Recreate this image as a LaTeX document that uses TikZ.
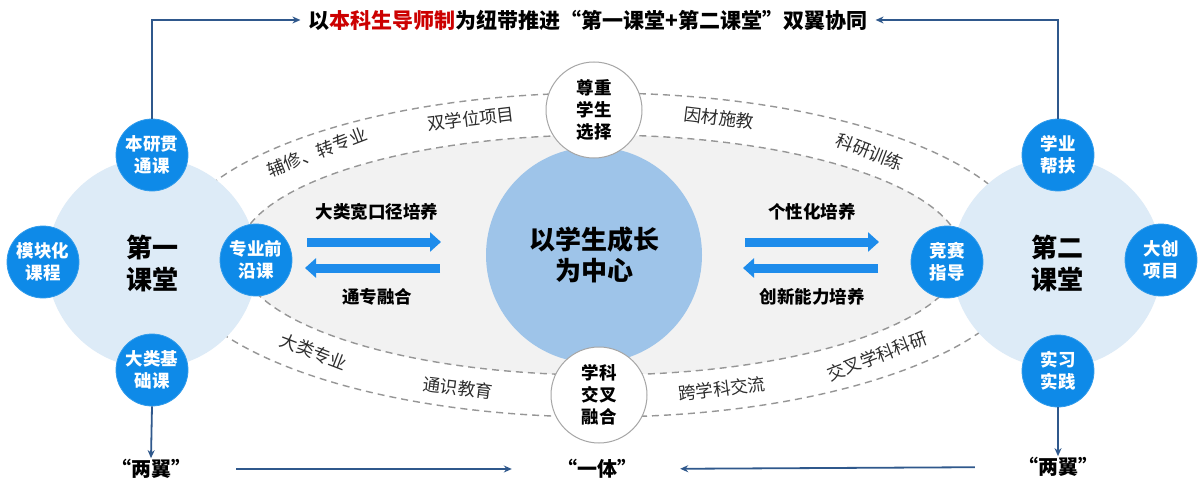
\documentclass[tikz,border=0pt]{standalone}
\usepackage{fontspec}
\setmainfont{Noto Sans CJK SC}
\usetikzlibrary{arrows.meta}
\definecolor{bigblue}{RGB}{221,235,247}
\definecolor{hubblue}{RGB}{158,196,233}
\definecolor{grayfill}{RGB}{242,242,242}
\definecolor{satblue}{RGB}{14,138,232}
\definecolor{arrowblue}{RGB}{30,140,235}
\definecolor{linkblue}{RGB}{47,88,140}
\definecolor{dashgray}{RGB}{150,150,150}
\definecolor{hubborder}{RGB}{166,166,166}
\definecolor{labelgray}{RGB}{45,45,45}
\definecolor{titlered}{RGB}{204,0,0}
\begin{document}
\begin{tikzpicture}[x=1pt,y=-1pt,
  sat/.style={circle, fill=satblue, draw=satblue!85!white, line width=0.8pt, minimum size=72pt, inner sep=0pt, text=white, align=center, font=\bfseries\fontsize{17.5}{22}\selectfont},
  bigc/.style={circle, fill=bigblue, minimum size=210pt, inner sep=0pt, align=center, font=\bfseries\fontsize{26}{32}\selectfont},
  hub/.style={circle, fill=white, draw=hubborder, line width=1pt, minimum size=96pt, inner sep=0pt, align=center, font=\bfseries\fontsize{17.5}{22}\selectfont},
  gl/.style={text=labelgray, font=\fontsize{17.5}{17.5}\selectfont, inner sep=0pt},
  bl/.style={font=\bfseries\fontsize{17.5}{17.5}\selectfont, inner sep=1pt},
  wing/.style={font=\bfseries\fontsize{20}{20}\selectfont, inner sep=1pt},
  conn/.style={draw=linkblue, line width=1.8pt, -{Stealth[length=8pt,width=7pt]}},
  dashline/.style={draw=dashgray, line width=1.4pt, dash pattern=on 7pt off 5pt},
  blockarrow/.style={draw=arrowblue, line width=9pt, -{Triangle[length=11pt,width=19pt]}}
]
\useasboundingbox (0,0) rectangle (1200,503);
\fill[white] (0,0) rectangle (1200,503);

% dashed ellipses
\draw[dashline] (600,255) ellipse [x radius=432, y radius=162];
\draw[dashline, fill=grayfill] (600,255) ellipse [x radius=362, y radius=120];

% center
\node[circle, fill=hubblue, minimum size=216pt, inner sep=0pt, align=center, font=\bfseries\fontsize{26}{31}\selectfont] (center) at (594,255) {以学生成长\\为中心};

% big circles
\node[bigc] (first) at (152,263) {第一\\课堂};
\node[bigc] (second) at (1057,263) {第二\\课堂};

% satellites left
\node[sat] (lN) at (152,155) {本研贯\\通课};
\node[sat] (lW) at (43,262) {模块化\\课程};
\node[sat] (lE) at (256,260) {专业前\\沿课};
\node[sat] (lS) at (152,370) {大类基\\础课};
% satellites right
\node[sat] (rN) at (1058,155) {学业\\帮扶};
\node[sat] (rW) at (947,262) {竞赛\\指导};
\node[sat] (rE) at (1161,260) {大创\\项目};
\node[sat] (rS) at (1058,371) {实习\\实践};

% hubs
\node[hub] (respect) at (594,110) {尊重\\学生\\选择};
\node[hub] (cross) at (599,395) {学科\\交叉\\融合};

% gray labels
\node[gl, rotate=21] (g1) at (317,152) {辅修、转专业};
\node[gl, rotate=7] (g2) at (471,119) {双学位项目};
\node[gl, rotate=-7] (g3) at (719,118) {因材施教};
\node[gl, rotate=-21] (g4) at (870,152) {科研训练};
\node[gl, rotate=-21] (g5) at (314,352) {大类专业};
\node[gl, rotate=-7] (g6) at (458,388) {通识教育};
\node[gl, rotate=7] (g7) at (722,389) {跨学科交流};
\node[gl, rotate=21] (g8) at (877,356) {交叉学科科研};

% block arrows
\coordinate (a1s) at (307,242); \coordinate (a1e) at (441,242);
\coordinate (a2s) at (440,268); \coordinate (a2e) at (305,268);
\coordinate (a3s) at (745,242); \coordinate (a3e) at (879,242);
\coordinate (a4s) at (878,268); \coordinate (a4e) at (743,268);
\draw[blockarrow] (a1s) -- (a1e);
\draw[blockarrow] (a2s) -- (a2e);
\draw[blockarrow] (a3s) -- (a3e);
\draw[blockarrow] (a4s) -- (a4e);
\node[bl] (b1) at (377,212) {大类宽口径培养};
\node[bl] (b2) at (377,297) {通专融合};
\node[bl] (b3) at (812,212) {个性化培养};
\node[bl] (b4) at (812,297) {创新能力培养};

% title
\node[font=\bfseries\fontsize{21}{21}\selectfont, inner sep=2pt] (title) at (588,20) {以\textcolor{titlered}{本科生导师制}为纽带推进“第一课堂+第二课堂”双翼协同};
\draw[conn, shorten >=6pt] (lN.north) |- (title.west);
\draw[conn, shorten >=6pt] (rN.north) |- (title.east);

% bottom
\node[wing] (wl) at (151,469) {“两翼”};
\node[wing] (one) at (597,469) {“一体”};
\node[wing] (wr) at (1058,467) {“两翼”};
\draw[conn] (lS.south) -- (wl.north);
\draw[conn] (rS.south) -- (wr.north);
\draw[conn, shorten <=44pt, shorten >=44pt] (wl.east) -- (one.west);
\draw[conn, shorten <=42pt, shorten >=42pt] (wr.west) -- (one.east);
\end{tikzpicture}
\end{document}
